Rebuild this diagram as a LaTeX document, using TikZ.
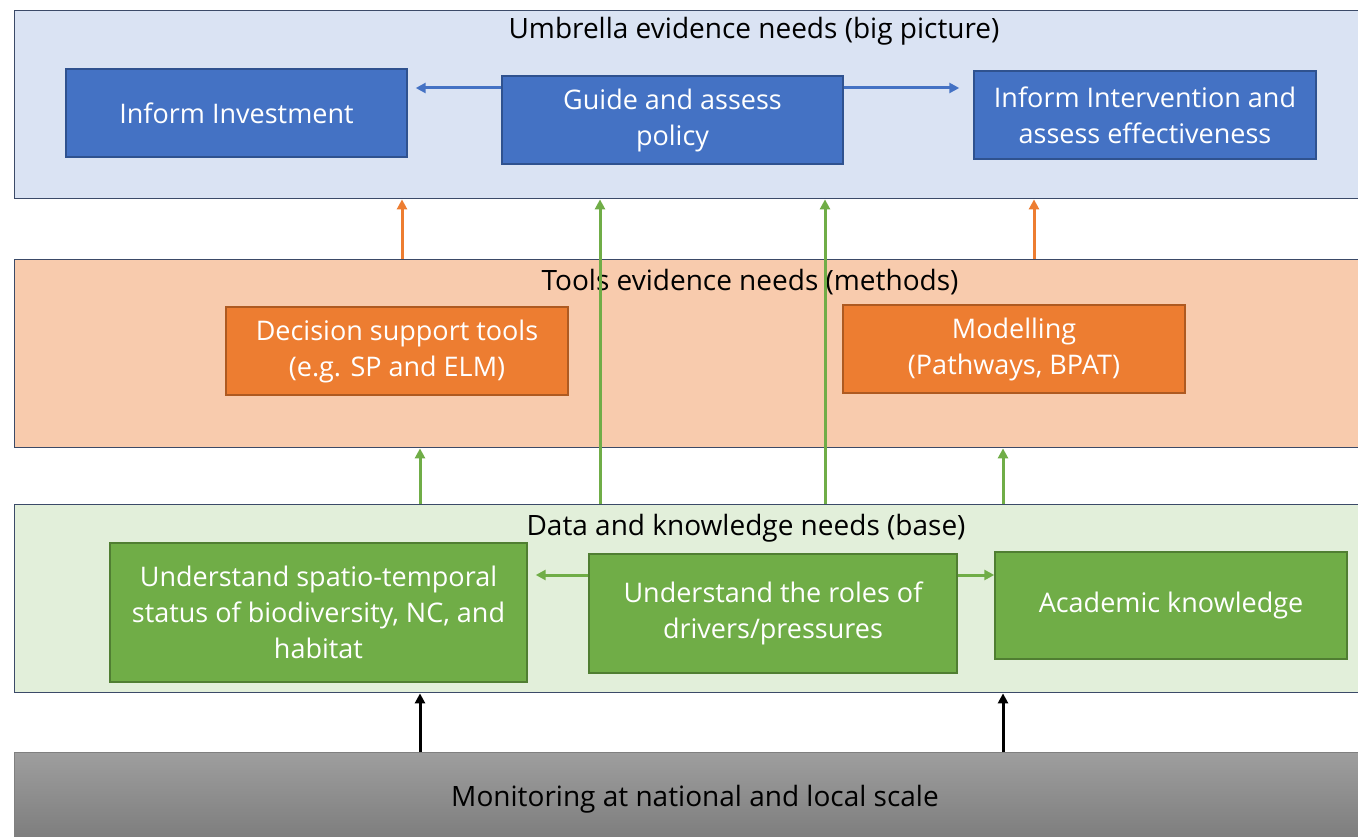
\documentclass[tikz,border=0pt]{standalone}
\usepackage{fontspec}
\setmainfont{Open Sans}
\usetikzlibrary{arrows.meta}
\definecolor{bandline}{HTML}{3B4A68}
\definecolor{blueband}{HTML}{DAE3F3}
\definecolor{bluebox}{HTML}{4472C4}
\definecolor{blueedge}{HTML}{2F528F}
\definecolor{orangeband}{HTML}{F8CBAD}
\definecolor{orangebox}{HTML}{ED7D31}
\definecolor{orangeedge}{HTML}{AE5A21}
\definecolor{greenband}{HTML}{E2EFDA}
\definecolor{greenbox}{HTML}{70AD47}
\definecolor{greenedge}{HTML}{507E32}
\tikzset{
  band/.style={draw=bandline, line width=1.4pt, rectangle, anchor=north west, minimum width=1360, minimum height=188, inner sep=0},
  boxbase/.style={rectangle, line width=1.4pt, text=white, align=center, inner sep=0, font=\fontsize{27}{36}\selectfont},
  bbox/.style={boxbase, fill=bluebox, draw=blueedge},
  obox/.style={boxbase, fill=orangebox, draw=orangeedge},
  gbox/.style={boxbase, fill=greenbox, draw=greenedge},
  bandtitle/.style={font=\fontsize{28}{30}\selectfont, text=black, inner sep=0},
  arr/.style={line width=3pt, -{Triangle[length=10pt,width=10pt]}},
}
\begin{document}
\begin{tikzpicture}[x=1pt,y=-1pt]
\useasboundingbox (0,0) rectangle (1358,837);
\clip (0,0) rectangle (1358,837);
% bands
\node[band, fill=blueband] (umb) at (14,10) {};
\node[band, fill=orangeband] (tools) at (14,259) {};
\node[band, fill=greenband] (data) at (14,504) {};
\node[band, draw=gray, line width=1pt, top color=black!38, bottom color=black!53, minimum height=100] (mon) at (14,752) {};
% titles
\node[bandtitle] (t1) at (754,31) {Umbrella evidence needs (big picture)};
\node[bandtitle] (t2) at (750,282) {Tools evidence needs (methods)};
\node[bandtitle] (t3) at (746,528) {Data and knowledge needs (base)};
\node[bandtitle] (t4) at (695,799) {Monitoring at national and local scale};
% top boxes
\node[bbox, minimum width=341, minimum height=88] (inv) at (236.5,113) {Inform Investment};
\node[bbox, minimum width=341, minimum height=88] (pol) at (672.5,120) {Guide and assess\\policy};
\node[bbox, minimum width=342, minimum height=88] (int) at (1145,115) {Inform Intervention and\\assess effectiveness};
% tools boxes
\node[obox, minimum width=342, minimum height=88] (dst) at (397,351) {Decision support tools\\(e.g. SP and ELM)};
\node[obox, minimum width=342, minimum height=88] (mod) at (1014,349) {Modelling\\(Pathways, BPAT)};
% data boxes
\node[gbox, minimum width=417, minimum height=139] (spa) at (318.5,612.5) {Understand spatio-temporal\\status of biodiversity, NC, and\\habitat};
\node[gbox, minimum width=368, minimum height=119] (rol) at (773,613.5) {Understand the roles of\\drivers/pressures};
\node[gbox, minimum width=352, minimum height=107] (aca) at (1171,605.5) {Academic knowledge};
% x positions
\coordinate (xa) at (402,0);
\coordinate (xb) at (1034,0);
\coordinate (xc) at (420,0);
\coordinate (xd) at (1003,0);
\coordinate (xe) at (600,0);
\coordinate (xf) at (825,0);
\coordinate (ya) at (0,88);
\coordinate (yb) at (0,575);
% connectors in top band
\draw[arr, bluebox] (pol.west |- ya) -- ([xshift=8pt]inv.east |- ya);
\draw[arr, bluebox] (pol.east |- ya) -- ([xshift=-14pt]int.west |- ya);
% orange
\draw[arr, orangebox] (tools.north -| xa) -- (umb.south -| xa);
\draw[arr, orangebox] (tools.north -| xb) -- (umb.south -| xb);
% green
\draw[arr, greenbox] (data.north -| xc) -- (tools.south -| xc);
\draw[arr, greenbox] (data.north -| xd) -- (tools.south -| xd);
\draw[arr, greenbox] (data.north -| xe) -- (umb.south -| xe);
\draw[arr, greenbox] (data.north -| xf) -- (umb.south -| xf);
% data band connectors
\draw[arr, greenbox] (rol.west |- yb) -- ([xshift=8pt]spa.east |- yb);
\draw[arr, greenbox] (rol.east |- yb) -- (aca.west |- yb);
% black
\draw[arr, black] (mon.north -| xc) -- (data.south -| xc);
\draw[arr, black] (mon.north -| xd) -- (data.south -| xd);
\end{tikzpicture}
\end{document}
